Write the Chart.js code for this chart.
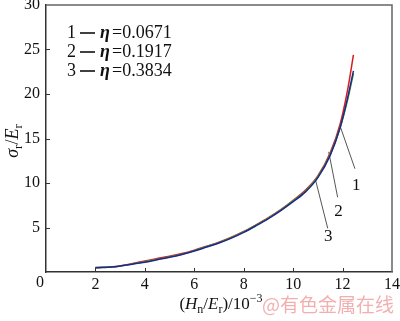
<!DOCTYPE html>
<html>
<head>
<meta charset="utf-8">
<script src="https://cdn.jsdelivr.net/npm/chart.js@4.4.0/dist/chart.umd.min.js"></script>
<style>
html, body { margin: 0; padding: 0; background: #fff; }
#wrap { width: 400px; height: 321px; }
</style>
</head>
<body>
<div id="wrap"><canvas id="chart" width="400" height="321"></canvas></div>
<script>
// x = Hn/Er (x10^-3), y = sigma_r/Er
var xValues = [2, 2.3, 2.8, 3.5, 4, 4.5, 5, 5.5, 6, 6.5, 7, 7.5, 8, 8.5, 9, 9.5, 10, 10.5, 11, 11.5, 11.9, 12.2, 12.44];
var curve1 = [0.5, 0.52, 0.62, 0.95, 1.25, 1.52, 1.78, 2.07, 2.45, 2.9, 3.35, 3.9, 4.55, 5.3, 6.1, 7.0, 8.05, 9.2, 10.8, 13.4, 16.6, 20.4, 24.4];
var curve2 = [0.5, 0.52, 0.6, 0.9, 1.15, 1.42, 1.7, 2.0, 2.4, 2.85, 3.3, 3.85, 4.5, 5.25, 6.05, 6.95, 8.0, 9.1, 10.7, 13.2, 16.2, 19.3, 22.3];
var curve3 = [0.48, 0.5, 0.58, 0.88, 1.1, 1.38, 1.65, 1.97, 2.35, 2.8, 3.25, 3.8, 4.45, 5.2, 6.0, 6.9, 7.9, 9.0, 10.6, 13.1, 16.2, 19.5, 22.6];

var seriesLabels = ['1', '2', '3'];
var etaValues = ['0.0671', '0.1917', '0.3834'];
var seriesColors = ['#d81c1c', '#3aa82a', '#1c2890'];

// leader lines from the curves down to the numbers 1, 2, 3
var leader1 = [{x: 11.9, y: 16.4}, {x: 12.5, y: 11.6}];
var leader2 = [{x: 11.44, y: 13.5}, {x: 11.8, y: 8.4}];
var leader3 = [{x: 10.9, y: 10.4}, {x: 11.4, y: 4.9}];
var labelSpots = [{x: 12.55, y: 9.75}, {x: 11.84, y: 6.8}, {x: 11.42, y: 4.0}];

var xTicks = [0, 2, 4, 6, 8, 10, 12, 14];
var yTicks = [0, 5, 10, 15, 20, 25, 30];

var SERIF = "'Liberation Serif', serif";

function toPoints(xs, ys) {
  var pts = [];
  for (var i = 0; i < xs.length; i++) {
    pts.push({x: xs[i], y: ys[i]});
  }
  return pts;
}

function curveSet(ys, color) {
  return {
    data: toPoints(xValues, ys),
    borderColor: color,
    borderWidth: 1.5,
    pointRadius: 0,
    showLine: true,
    cubicInterpolationMode: 'monotone',
    fill: false
  };
}

function leaderSet(pts) {
  return {
    data: pts,
    borderColor: '#555',
    borderWidth: 1,
    pointRadius: 0,
    showLine: true,
    fill: false
  };
}

// draw a run of text pieces; each piece may be italic, subscript or superscript
function drawRich(ctx, parts, cx, cy, size) {
  function fontFor(p) {
    var s = (p.sub || p.sup) ? Math.round(size * 0.72) : size;
    return (p.it ? 'italic ' : '') + s + 'px ' + SERIF;
  }
  var total = 0;
  parts.forEach(function(p) {
    ctx.font = fontFor(p);
    p.w = ctx.measureText(p.t).width;
    total += p.w;
  });
  var x = cx - total / 2;
  ctx.textAlign = 'left';
  ctx.textBaseline = 'middle';
  parts.forEach(function(p) {
    ctx.font = fontFor(p);
    var dy = p.sub ? size * 0.3 : (p.sup ? -size * 0.35 : 0);
    ctx.fillText(p.t, x, cy + dy);
    x += p.w;
  });
}

var decorPlugin = {
  id: 'decor',
  afterDraw: function(chart) {
    var ctx = chart.ctx;
    var a = chart.chartArea;
    var xs = chart.scales.x;
    var ys = chart.scales.y;
    ctx.save();

    // top and right frame
    ctx.strokeStyle = '#666';
    ctx.lineWidth = 1.5;
    ctx.beginPath();
    ctx.moveTo(a.left, a.top);
    ctx.lineTo(a.right, a.top);
    ctx.lineTo(a.right, a.bottom);
    ctx.stroke();

    // inward ticks
    ctx.strokeStyle = '#333';
    ctx.lineWidth = 1;
    ctx.beginPath();
    xTicks.forEach(function(v) {
      if (v === 0 || v === 14) return;
      var px = Math.round(xs.getPixelForValue(v)) + 0.5;
      ctx.moveTo(px, a.bottom);
      ctx.lineTo(px, a.bottom - 4);
    });
    yTicks.forEach(function(v) {
      if (v === 0 || v === 30) return;
      var py = Math.round(ys.getPixelForValue(v)) + 0.5;
      ctx.moveTo(a.left, py);
      ctx.lineTo(a.left + 4, py);
    });
    ctx.stroke();

    ctx.fillStyle = '#111';
    // shared origin label
    ctx.font = '16px ' + SERIF;
    ctx.textAlign = 'center';
    ctx.textBaseline = 'middle';
    ctx.fillText('0', a.left - 6, a.bottom + 11);

    // curve numbers
    ctx.font = '17px ' + SERIF;
    labelSpots.forEach(function(p, i) {
      ctx.fillText(seriesLabels[i], xs.getPixelForValue(p.x), ys.getPixelForValue(p.y));
    });

    // legend text
    for (var i = 0; i < seriesLabels.length; i++) {
      var ly = a.top + 28 + i * 19;
      var lx = a.left + 21;
      ctx.font = '18px ' + SERIF;
      ctx.textAlign = 'left';
      ctx.fillText(seriesLabels[i], lx, ly);
      ctx.lineWidth = 1.6;
      ctx.strokeStyle = '#111';
      ctx.beginPath();
      ctx.moveTo(lx + 13, ly);
      ctx.lineTo(lx + 28, ly);
      ctx.stroke();
      ctx.font = 'italic bold 18px ' + SERIF;
      ctx.fillText('\u03b7', lx + 33, ly);
      ctx.font = '18px ' + SERIF;
      ctx.fillText('=' + etaValues[i], lx + 45, ly);
    }

    // x axis title
    drawRich(ctx, [
      {t: '('}, {t: 'H', it: true}, {t: 'n', sub: true}, {t: '/'},
      {t: 'E', it: true}, {t: 'r', sub: true}, {t: ')/10'}, {t: '\u22123', sup: true}
    ], 221, 305, 17);

    // y axis title
    ctx.save();
    ctx.translate(13, 141);
    ctx.rotate(-Math.PI / 2);
    drawRich(ctx, [
      {t: '\u03c3', it: true}, {t: 'r', sub: true}, {t: '/'},
      {t: 'E', it: true}, {t: 'r', sub: true}
    ], 0, 0, 18);
    ctx.restore();

    // watermark
    ctx.fillStyle = 'rgba(232, 110, 110, 0.55)';
    ctx.font = '19px "Noto Sans CJK SC", sans-serif';
    ctx.textAlign = 'left';
    ctx.textBaseline = 'middle';
    ctx.fillText('@\u6709\u8272\u91d1\u5c5e\u5728\u7ebf', 262, 305);

    ctx.restore();
  }
};

new Chart(document.getElementById('chart'), {
  type: 'scatter',
  data: {
    datasets: [
      curveSet(curve3, seriesColors[2]),
      curveSet(curve2, seriesColors[1]),
      curveSet(curve1, seriesColors[0]),
      leaderSet(leader1),
      leaderSet(leader2),
      leaderSet(leader3)
    ]
  },
  options: {
    responsive: false,
    animation: false,
    devicePixelRatio: 1,
    layout: { padding: { top: 5, right: 8, left: 0, bottom: 0 } },
    plugins: { legend: { display: false }, tooltip: { enabled: false } },
    scales: {
      x: {
        type: 'linear', min: 0, max: 14,
        afterFit: function(s) { s.height = 49; s.paddingLeft = 0; s.paddingRight = 0; },
        afterBuildTicks: function(s) { s.ticks = xTicks.map(function(v) { return {value: v}; }); },
        grid: { display: false, drawTicks: false },
        border: { display: true, color: '#333', width: 1.5 },
        ticks: {
          padding: 3, color: '#111', font: { family: SERIF, size: 16 },
          maxRotation: 0,
          callback: function(v) { return v === 0 ? '' : v; }
        }
      },
      y: {
        min: 0, max: 30,
        afterFit: function(s) { s.width = 46; s.paddingTop = 0; s.paddingBottom = 0; },
        afterBuildTicks: function(s) { s.ticks = yTicks.map(function(v) { return {value: v}; }); },
        grid: { display: false, drawTicks: false },
        border: { display: true, color: '#333', width: 1.5 },
        ticks: {
          padding: 6, color: '#111', font: { family: SERIF, size: 16 },
          callback: function(v) { return v === 0 ? '' : v; }
        }
      }
    }
  },
  plugins: [decorPlugin]
});
</script>
</body>
</html>
